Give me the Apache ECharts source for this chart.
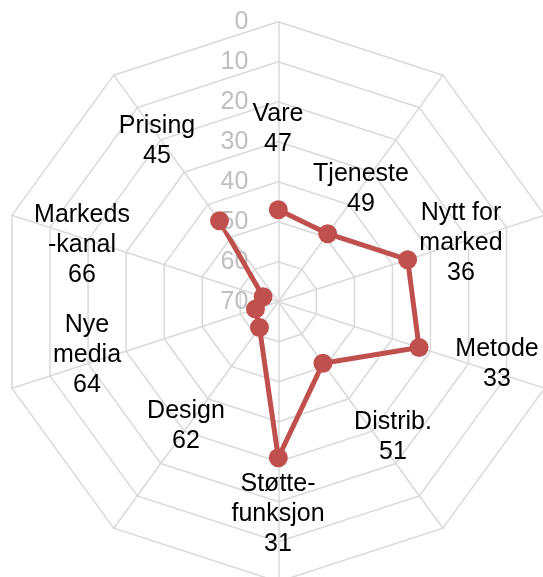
<!DOCTYPE html>
<html>
<head>
    <meta charset="utf-8"/>
    <title>Radar</title>
    <style>
        html, body { margin: 0; padding: 0; background: #fff; }
        #myChart { width: 543px; height: 577px; }
    </style>
</head>
<body>
<div id="myChart"></div>

<script type="text/javascript" src="https://cdn.jsdelivr.net/npm/echarts@6/dist/echarts.min.js"></script>
<script>
    // data
    var categories = ['Vare', 'Tjeneste', 'Nytt for\nmarked', 'Metode', 'Distrib.',
        'Støtte-\nfunksjon', 'Design', 'Nye\nmedia', 'Markeds\n-kanal', 'Prising'];
    var values = [47, 49, 36, 33, 51, 31, 62, 64, 66, 45];
    var radiusTicks = [0, 10, 20, 30, 40, 50, 60, 70];

    // where the category texts sit (pixel centers)
    var labelAt = [[278, 129], [361, 189], [461, 243], [497, 364], [393, 437],
        [278, 514], [186, 426], [87, 355], [82, 245], [157, 141]];

    var center = [278.3, 301.7];
    var R = 280;
    var font = '"Liberation Sans", Arial, sans-serif';

    var myChart = echarts.init(document.getElementById('myChart'));

    // closed polygon: repeat the first point at the end
    var lineData = [];
    for (var i = 0; i < values.length; i++) {
        lineData.push([values[i], i]);
    }
    lineData.push({value: [values[0], 0], symbol: 'none'});

    var texts = [];
    for (var j = 0; j < categories.length; j++) {
        texts.push({
            type: 'text',
            x: labelAt[j][0],
            y: labelAt[j][1],
            z: 100,
            style: {
                text: categories[j] + '\n' + values[j],
                fill: '#000',
                font: '25px ' + font,
                lineHeight: 30,
                align: 'center',
                verticalAlign: 'middle'
            }
        });
    }

    var option = {
        backgroundColor: '#fff',
        animation: false,
        radar: {
            center: center,
            radius: R,
            startAngle: 90,
            shape: 'polygon',
            splitNumber: radiusTicks.length - 1,
            indicator: categories.map(function (c) {
                return {name: c, min: radiusTicks[0], max: radiusTicks[radiusTicks.length - 1]};
            }),
            axisName: {show: false},
            axisLine: {lineStyle: {color: '#d9d9d9', width: 1.5}},
            splitLine: {lineStyle: {color: '#d9d9d9', width: 1.5}},
            splitArea: {show: false}
        },
        polar: {
            center: center,
            radius: R
        },
        angleAxis: {
            type: 'category',
            data: categories,
            startAngle: 90,
            boundaryGap: false,
            axisLine: {show: false},
            axisTick: {show: false},
            axisLabel: {show: false},
            splitLine: {show: false}
        },
        radiusAxis: {
            type: 'value',
            min: radiusTicks[0],
            max: radiusTicks[radiusTicks.length - 1],
            interval: 10,
            inverse: true,
            axisLine: {show: false},
            axisTick: {show: false},
            splitLine: {show: false},
            axisLabel: {
                color: '#bfbfbf',
                fontSize: 25,
                fontFamily: font,
                margin: 30
            },
            z: 5
        },
        series: [{
            type: 'line',
            coordinateSystem: 'polar',
            data: lineData,
            symbol: 'circle',
            symbolSize: 19,
            lineStyle: {color: '#c0504d', width: 5},
            itemStyle: {color: '#c0504d'},
            z: 10
        }],
        graphic: texts
    };
    myChart.setOption(option);
</script>
</body>
</html>
